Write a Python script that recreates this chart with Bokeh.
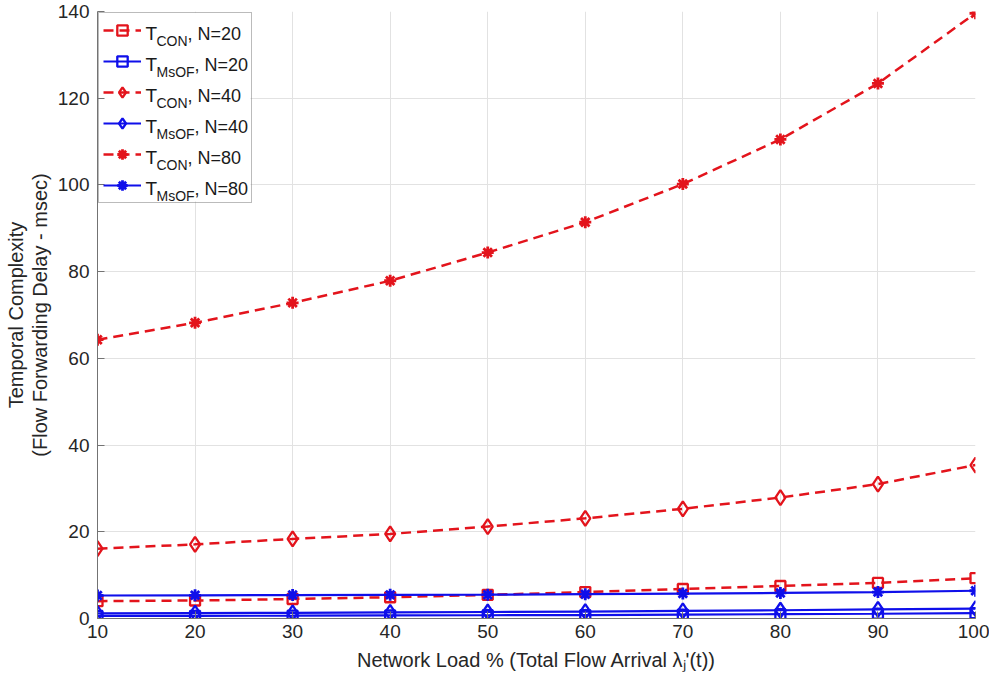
from bokeh.plotting import figure
from bokeh.models import Legend, LegendItem, Label, FixedTicker, Range1d, BoxAnnotation
from bokeh.embed import file_html
from bokeh.resources import INLINE

# ---------------- data ----------------
network_load = [10, 20, 30, 40, 50, 60, 70, 80, 90, 100]
t_con_n20 = [4.0, 4.15, 4.5, 4.9, 5.45, 6.1, 6.8, 7.5, 8.2, 9.3]
t_msof_n20 = [0.6, 0.62, 0.65, 0.7, 0.75, 0.8, 0.9, 1.0, 1.1, 1.25]
t_con_n40 = [16.1, 17.1, 18.35, 19.5, 21.2, 23.1, 25.3, 27.9, 31.0, 35.4]
t_msof_n40 = [1.2, 1.25, 1.3, 1.4, 1.5, 1.6, 1.75, 1.9, 2.1, 2.3]
t_con_n80 = [64.3, 68.2, 72.8, 77.9, 84.4, 91.4, 100.2, 110.5, 123.4, 139.6]
t_msof_n80 = [5.3, 5.35, 5.4, 5.45, 5.5, 5.6, 5.75, 5.9, 6.1, 6.4]

x_ticks = [10, 20, 30, 40, 50, 60, 70, 80, 90, 100]
y_ticks = [0, 20, 40, 60, 80, 100, 120, 140]

series_main = ["T", "T", "T", "T", "T", "T"]
series_sub = ["CON", "MsOF", "CON", "MsOF", "CON", "MsOF"]
series_suffix = [", N=20", ", N=20", ", N=40", ", N=40", ", N=80", ", N=80"]

x_label = "Network Load % (Total Flow Arrival \u03bb\u2c7c'(t))"
y_label = "Temporal Complexity\n(Flow Forwarding Delay - msec)"

# ---------------- style ----------------
RED = "#e3141c"
BLUE = "#0f0fea"
FONT = "Liberation Sans"
FRAME_W = 878
FRAME_H = 607

p = figure(
    frame_width=FRAME_W, frame_height=FRAME_H,
    x_range=Range1d(10, 100), y_range=Range1d(0, 140),
    output_backend="svg", toolbar_location=None,
    min_border_left=97, min_border_right=14, min_border_top=11, min_border_bottom=60,
    background_fill_color="white", border_fill_color="white",
)
p.outline_line_color = None

for ax in (p.xaxis[0], p.yaxis[0]):
    ax.axis_line_color = "#737373"
    ax.major_tick_line_color = "#737373"
    ax.major_tick_in = 7
    ax.major_tick_out = 0
    ax.minor_tick_line_color = None
    ax.major_label_text_font = FONT
    ax.major_label_text_font_size = "19px"
    ax.major_label_text_color = "#262626"
    ax.axis_label_text_font = FONT
    ax.axis_label_text_font_size = "20px"
    ax.axis_label_text_font_style = "normal"
    ax.axis_label_text_color = "#262626"

p.xaxis.ticker = FixedTicker(ticks=x_ticks)
p.yaxis.ticker = FixedTicker(ticks=y_ticks)
p.xaxis.major_label_standoff = 6
p.yaxis.major_label_standoff = 8

p.yaxis.axis_label = y_label
p.yaxis.axis_label_text_line_height = 1.1
p.yaxis.axis_label_standoff = 4
p.xaxis.axis_label = x_label
p.xaxis.axis_label_standoff = 8

p.xgrid.grid_line_color = "#e2e2e2"
p.ygrid.grid_line_color = "#e2e2e2"

# legend geometry (frame-relative screen px)
LG_PAD, LG_GW, LG_GH, LG_SP, LG_STAND, LG_LW = 4, 38, 26, 5, 5, 101
lg_w = 2 * LG_PAD + LG_GW + LG_STAND + LG_LW
lg_h = 2 * LG_PAD + 6 * LG_GH + 5 * LG_SP
p.add_layout(BoxAnnotation(left=1, right=1 + lg_w, top=FRAME_H - 1, bottom=FRAME_H - 1 - lg_h,
                           left_units="screen", right_units="screen",
                           top_units="screen", bottom_units="screen",
                           fill_color="white", fill_alpha=1.0, line_color=None,
                           level="underlay", editable=False))

dash = "10 6"
specs = [
    (t_con_n20, RED, dash, "square", 10, 2.3),
    (t_msof_n20, BLUE, "solid", "square", 10, 2.3),
    (t_con_n40, RED, dash, "diamond", 15, 2.3),
    (t_msof_n40, BLUE, "solid", "diamond", 15, 2.3),
    (t_con_n80, RED, dash, "asterisk", 12, 2.8),
    (t_msof_n80, BLUE, "solid", "asterisk", 12, 2.8),
]

items = []
for ys, col, ld, mk, sz, mlw in specs:
    lw = 2.5 if col == RED else 2.2
    lr = p.line(network_load, ys, line_color=col, line_width=lw, line_dash=ld)
    sr = p.scatter(network_load, ys, marker=mk, size=sz, line_color=col,
                   fill_color=None, line_width=mlw)
    items.append(LegendItem(label=" ", renderers=[lr, sr]))

legend = Legend(
    items=items, location="top_left", margin=1, padding=LG_PAD,
    glyph_width=LG_GW, glyph_height=LG_GH, label_height=LG_GH, label_width=LG_LW,
    label_standoff=LG_STAND, spacing=LG_SP,
    border_line_color="#777777", border_line_width=1,
    background_fill_alpha=0.0,
    label_text_font_size="10px",
)
p.add_layout(legend, "center")

# legend texts with subscripts (frame-relative screen units)
sub_w = {"CON": 31, "MsOF": 38}
x_text = 1 + LG_PAD + LG_GW + LG_STAND
for i in range(6):
    cy = FRAME_H - 1 - LG_PAD - LG_GH / 2 - i * (LG_GH + LG_SP)
    p.add_layout(Label(x=x_text, y=cy - 4, x_units="screen", y_units="screen",
                       text=series_main[i], text_font=FONT, text_font_size="19px",
                       text_color="#1a1a1a", text_baseline="alphabetic"))
    p.add_layout(Label(x=x_text + 11, y=cy - 11, x_units="screen", y_units="screen",
                       text=series_sub[i], text_font=FONT, text_font_size="14px",
                       text_color="#1a1a1a", text_baseline="alphabetic"))
    p.add_layout(Label(x=x_text + 11 + sub_w[series_sub[i]], y=cy - 4,
                       x_units="screen", y_units="screen",
                       text=series_suffix[i], text_font=FONT, text_font_size="18px",
                       text_color="#1a1a1a", text_baseline="alphabetic"))

open("out.html", "w").write(file_html(p, INLINE))
